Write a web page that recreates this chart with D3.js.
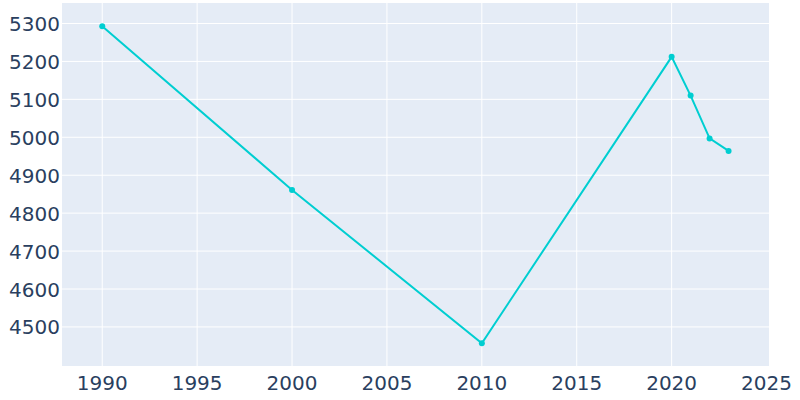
<!DOCTYPE html>
<html><head><meta charset="utf-8">
<script src="https://cdn.jsdelivr.net/npm/d3@7"></script>
<style>body{margin:0;background:#fff}svg{display:block}</style>
</head><body>
<svg id="c" width="800" height="400"></svg>
<script>
const years = [1990, 2000, 2010, 2020, 2021, 2022, 2023];
const population = [5293, 4861, 4457, 5212, 5110, 4997, 4964];
const xTicks = [1990, 1995, 2000, 2005, 2010, 2015, 2020, 2025];
const yTicks = [4500, 4600, 4700, 4800, 4900, 5000, 5100, 5200, 5300];

const svg = d3.select('#c');
const L = 62, R = 769, T = 3, B = 366;
const x = d3.scaleLinear().domain([1987.88, 2025.13]).range([L, R]);
const y = d3.scaleLinear().domain([4397, 5354]).range([B, T]);
const font = 'DejaVu Sans, sans-serif';
const tc = '#2a3f5f';

svg.append('rect').attr('x', L).attr('y', T).attr('width', R - L).attr('height', B - T).attr('fill', '#E5ECF6');

svg.append('g').selectAll('line').data(xTicks.filter(d => x(d) < R - 4)).join('line')
  .attr('x1', d => x(d)).attr('x2', d => x(d)).attr('y1', T).attr('y2', B)
  .attr('stroke', '#fff').attr('stroke-width', 1);
svg.append('g').selectAll('line').data(yTicks).join('line')
  .attr('x1', L).attr('x2', R).attr('y1', d => y(d)).attr('y2', d => y(d))
  .attr('stroke', '#fff').attr('stroke-width', 1);

svg.append('g').selectAll('text').data(xTicks).join('text')
  .attr('x', d => x(d)).attr('y', 390).attr('text-anchor', 'middle')
  .attr('font-family', font).attr('font-size', 20).attr('fill', tc).text(d => d);
svg.append('g').selectAll('text').data(yTicks).join('text')
  .attr('x', 60).attr('y', d => y(d) + 7.5).attr('text-anchor', 'end')
  .attr('font-family', font).attr('font-size', 20).attr('fill', tc).text(d => d);

const pts = years.map((d, i) => [d, population[i]]);
svg.append('path').datum(pts)
  .attr('d', d3.line().x(d => x(d[0])).y(d => y(d[1])))
  .attr('fill', 'none').attr('stroke', '#00CED1').attr('stroke-width', 2);
svg.append('g').selectAll('circle').data(pts).join('circle')
  .attr('cx', d => x(d[0])).attr('cy', d => y(d[1])).attr('r', 3)
  .attr('fill', '#00CED1');
</script>
</body></html>
